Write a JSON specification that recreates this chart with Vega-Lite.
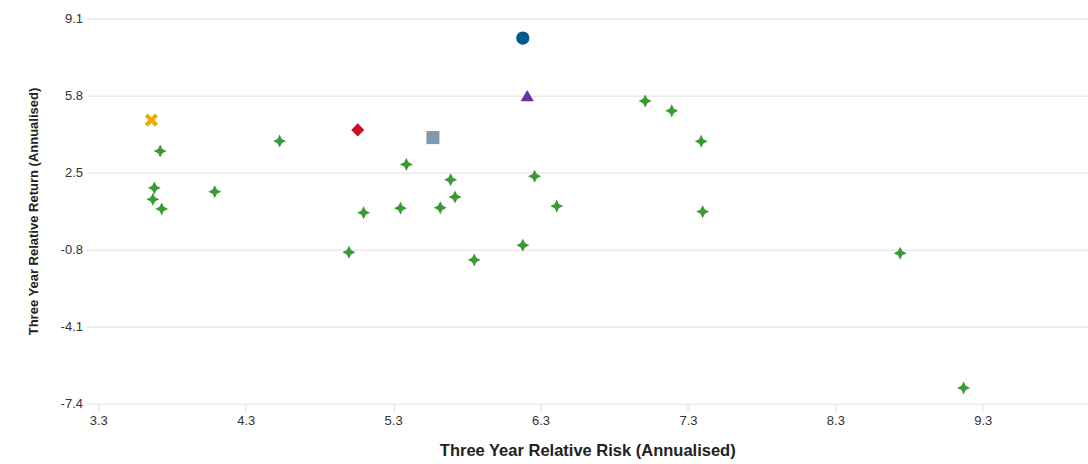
{
  "$schema": "https://vega.github.io/schema/vega-lite/v6.json",
  "width": 1001.5,
  "height": 384.6,
  "autosize": {"type": "none"},
  "padding": {"left": 86.5, "top": 18.7, "right": 0, "bottom": 60.7},
  "background": "white",
  "config": {"view": {"stroke": null}, "font": "Liberation Sans"},
  "data": {
    "values": [
      {"series": "Fund", "risk": 6.18, "ret": 8.27},
      {"series": "Benchmark", "risk": 6.21, "ret": 5.8},
      {"series": "Index", "risk": 3.66, "ret": 4.75},
      {"series": "Sector Average", "risk": 5.06, "ret": 4.33},
      {"series": "Sector Median", "risk": 5.57, "ret": 4.0},
      {"series": "Peers", "risk": 3.72, "ret": 3.42},
      {"series": "Peers", "risk": 3.68, "ret": 1.84},
      {"series": "Peers", "risk": 3.67, "ret": 1.35},
      {"series": "Peers", "risk": 3.73, "ret": 0.94},
      {"series": "Peers", "risk": 4.09, "ret": 1.68},
      {"series": "Peers", "risk": 4.53, "ret": 3.85},
      {"series": "Peers", "risk": 5.0, "ret": -0.92},
      {"series": "Peers", "risk": 5.1, "ret": 0.78},
      {"series": "Peers", "risk": 5.35, "ret": 0.97},
      {"series": "Peers", "risk": 5.39, "ret": 2.85},
      {"series": "Peers", "risk": 5.62, "ret": 0.99},
      {"series": "Peers", "risk": 5.69, "ret": 2.19},
      {"series": "Peers", "risk": 5.72, "ret": 1.45},
      {"series": "Peers", "risk": 5.85, "ret": -1.25},
      {"series": "Peers", "risk": 6.18, "ret": -0.62},
      {"series": "Peers", "risk": 6.26, "ret": 2.34},
      {"series": "Peers", "risk": 6.41, "ret": 1.06},
      {"series": "Peers", "risk": 7.01, "ret": 5.57},
      {"series": "Peers", "risk": 7.19, "ret": 5.15},
      {"series": "Peers", "risk": 7.39, "ret": 3.84},
      {"series": "Peers", "risk": 7.4, "ret": 0.82},
      {"series": "Peers", "risk": 8.74, "ret": -0.96},
      {"series": "Peers", "risk": 9.17, "ret": -6.74}
    ]
  },
  "mark": {"type": "point", "filled": true, "opacity": 1},
  "encoding": {
    "x": {
      "field": "risk",
      "type": "quantitative",
      "scale": {"domain": [3.22, 10.014], "nice": false, "zero": false},
      "axis": {
        "title": "Three Year Relative Risk (Annualised)",
        "values": [3.3, 4.3, 5.3, 6.3, 7.3, 8.3, 9.3],
        "format": ".1f",
        "grid": false,
        "domain": false,
        "ticks": true,
        "tickColor": "#dedede",
        "tickSize": 8,
        "labelFontSize": 13,
        "labelColor": "#333333",
        "labelPadding": 3,
        "titleFontSize": 16.5,
        "titleFontWeight": "bold",
        "titleColor": "#222222",
        "titleY": 47,
        "titleBaseline": "middle"
      }
    },
    "y": {
      "field": "ret",
      "type": "quantitative",
      "scale": {"domain": [-7.4, 9.1], "nice": false, "zero": false},
      "axis": {
        "title": "Three Year Relative Return (Annualised)",
        "values": [-7.4, -4.1, -0.8, 2.5, 5.8, 9.1],
        "labelExpr": "replace(format(datum.value, '.1f'), '\u2212', '-')",
        "grid": true,
        "gridColor": "#e3e3e3",
        "domain": false,
        "ticks": false,
        "tickSize": 0,
        "labelPadding": 4,
        "labelFontSize": 13,
        "labelColor": "#333333",
        "titleFontSize": 13,
        "titleFontWeight": "bold",
        "titleColor": "#222222",
        "titleX": -53,
        "titleY": 192.3,
        "titleAlign": "center",
        "titleBaseline": "middle",
        "titleAngle": -90
      }
    },
    "color": {
      "field": "series",
      "type": "nominal",
      "scale": {
        "domain": ["Fund", "Benchmark", "Index", "Sector Average", "Sector Median", "Peers"],
        "range": ["#005b8e", "#7030a0", "#f0ab00", "#c8102e", "#7f99ae", "#3a9a35"]
      },
      "legend": null
    },
    "shape": {
      "field": "series",
      "type": "nominal",
      "scale": {
        "domain": ["Fund", "Benchmark", "Index", "Sector Average", "Sector Median", "Peers"],
        "range": [
          "circle",
          "triangle-up",
          "M-1,-0.55L-0.55,-1L0,-0.45L0.55,-1L1,-0.55L0.45,0L1,0.55L0.55,1L0,0.45L-0.55,1L-1,0.55L-0.45,0Z",
          "diamond",
          "square",
          "M0,-1L0.33,-0.33L1,0L0.33,0.33L0,1L-0.33,0.33L-1,0L-0.33,-0.33Z"
        ]
      },
      "legend": null
    },
    "size": {
      "field": "series",
      "type": "nominal",
      "scale": {
        "domain": ["Fund", "Benchmark", "Index", "Sector Average", "Sector Median", "Peers"],
        "range": [177, 169, 132, 177, 177, 165]
      },
      "legend": null
    }
  }
}
